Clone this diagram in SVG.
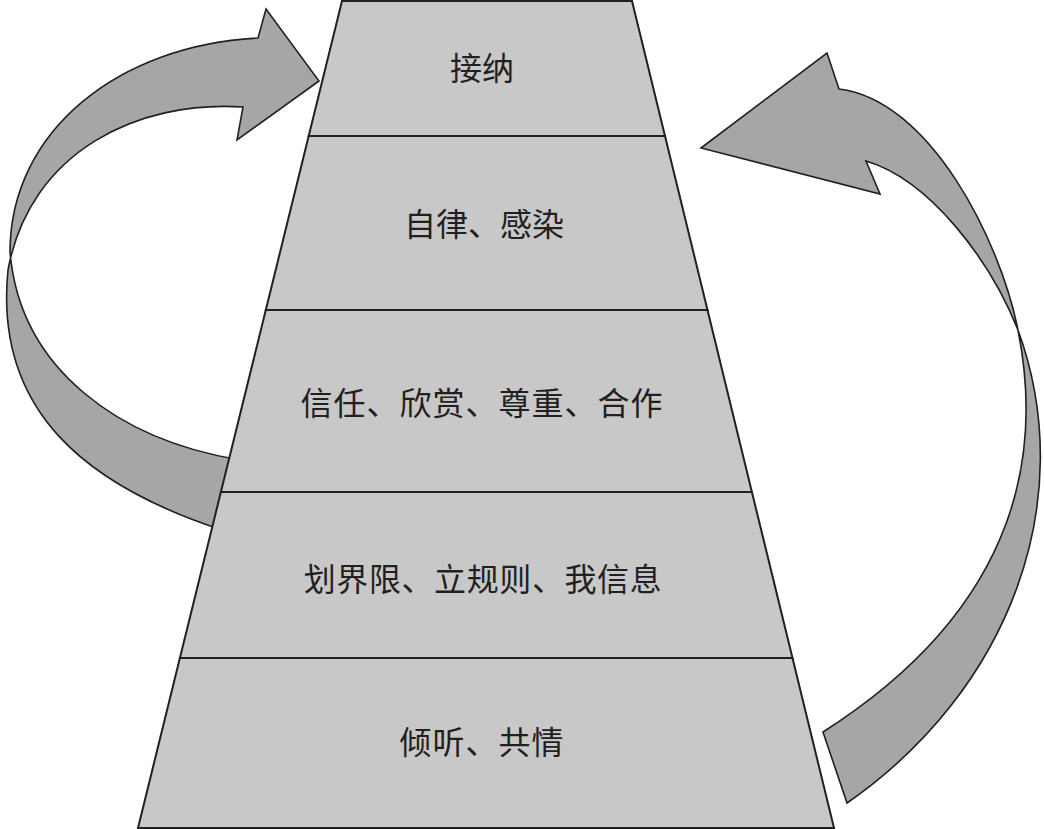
<svg xmlns="http://www.w3.org/2000/svg" width="1044" height="829" viewBox="0 0 1044 829">
<style>
.arrow{fill:#a7a5a6;stroke:#231f20;stroke-width:1.6;stroke-linejoin:miter;fill-rule:nonzero}
.band{fill:#c8c8c8;stroke:#231f20;stroke-width:2;stroke-linejoin:miter}
.lbl{font-family:"Noto Sans CJK SC","Noto Sans CJK JP",sans-serif;font-size:32px;fill:#231f20;text-anchor:middle}
</style>
<rect width="1044" height="829" fill="#ffffff"/>
<g id="connectors">
<path id="arrow-left" class="arrow" d="M240,460 C120,440 20,370 10,252 C10,130 120,45 258,38 L266,9 L319,81 L237,140 L243,107 C140,100 30,150 8,270 C-6,410 85,485 222,530 Z"/>
<path id="arrow-right" class="arrow" d="M701,148 L827,53 L839,89 C930,100 1000,240 1018,330 C1040,440 1030,600 823,732 L847,803 C1010,690 1080,500 1018,330 C990,260 930,180 866,161 L880,194 Z"/>
</g>
<g id="level-1">
<polygon class="band" points="342,1 632,1 665,136 308.7,136"/>
<text class="lbl" x="482" y="80">接纳</text>
</g>
<g id="level-2">
<polygon class="band" points="308.7,136 665,136 707.5,310 265.8,310"/>
<text class="lbl" x="484" y="236">自律、感染</text>
</g>
<g id="level-3">
<polygon class="band" points="265.8,310 707.5,310 751.9,492 220.9,492"/>
<text class="lbl" x="482" y="415" letter-spacing="1">信任、欣赏、尊重、合作</text>
</g>
<g id="level-4">
<polygon class="band" points="220.9,492 751.9,492 792.5,658 179.9,658"/>
<text class="lbl" x="483" y="591" letter-spacing="0.6">划界限、立规则、我信息</text>
</g>
<g id="level-5">
<polygon class="band" points="179.9,658 792.5,658 834,828 138,828"/>
<text class="lbl" x="482" y="754" letter-spacing="1">倾听、共情</text>
</g>
</svg>
